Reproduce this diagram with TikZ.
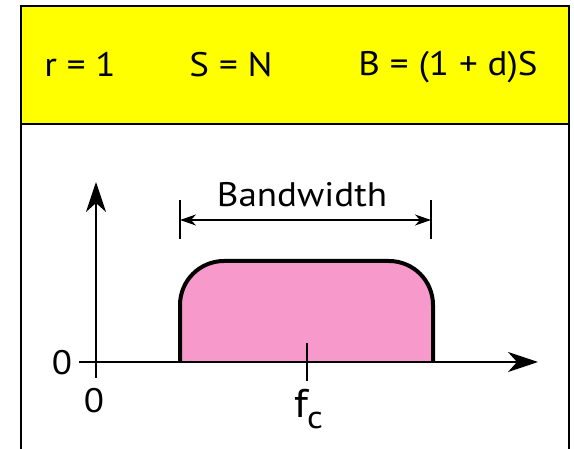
\documentclass[tikz,border=0pt]{standalone}
\usepackage{fontspec}
\setmainfont{PT Sans}[FakeStretch=1.09]
\usetikzlibrary{arrows.meta}
\definecolor{hdryellow}{HTML}{FFFF00}
\definecolor{pulsepink}{HTML}{F799CA}
\tikzset{
  frame/.style={line width=2.2pt, draw=black},
  lbl/.style={font=\fontsize{34}{40}\selectfont, inner sep=0pt, anchor=base},
  axis/.style={line width=1.8pt, -{Stealth[length=30pt,width=20pt,inset=9pt]}},
  tick/.style={line width=2pt},
  bwarrow/.style={line width=1.6pt, {Stealth[length=16pt,width=11pt,inset=5pt]}-{Stealth[length=16pt,width=11pt,inset=5pt]}},
  pulse/.style={line width=4pt, draw=black, line join=round}
}
\begin{document}
\begin{tikzpicture}[x=1pt,y=-1pt]
\useasboundingbox (0,0) rectangle (574,449);
% frame
\fill[white] (0,0) rectangle (574,449);
\filldraw[frame, fill=hdryellow] (21,6) rectangle (569,124);
\draw[frame] (21,124) -- (21,449);
\draw[frame] (569,124) -- (569,449);
% header texts
\node[lbl] (r) at (80,77) {r = 1};
\node[lbl] (s) at (231,77) {S = N};
\node[lbl] (b) at (448,76) {B = (1 + d)S};
% pulse
\fill[pulsepink] (180,362) -- (180,305) arc[start angle=180, end angle=270, radius=44]
  -- (389,261) arc[start angle=270, end angle=360, radius=44] -- (433,362) -- cycle;
\draw[pulse] (180,362) -- (180,305) arc[start angle=180, end angle=270, radius=44]
  -- (389,261) arc[start angle=270, end angle=360, radius=44] -- (433,362);
% axes
\coordinate (xs) at (79,362);
\coordinate (xe) at (538,362);
\coordinate (ys) at (96,378);
\coordinate (ye) at (96,182);
\draw[axis] (xs) -- (xe);
\draw[axis] (ys) -- (ye);
% fc tick
\coordinate (fct) at (307,343);
\coordinate (fcb) at (307,381);
\draw[tick] (fct) -- (fcb);
% bandwidth
\coordinate (blt) at (180,200);
\coordinate (blb) at (180,239);
\coordinate (brt) at (431,200);
\coordinate (brb) at (431,239);
\draw[tick] (blt) -- (blb);
\draw[tick] (brt) -- (brb);
\coordinate (bl) at (180,220);
\coordinate (br) at (431,220);
\draw[bwarrow] (bl) -- (br);
\node[lbl] (bw) at (302,207) {Bandwidth};
% labels
\node[lbl] (z1) at (62,375) {0};
\node[lbl] (z2) at (94,413) {0};
\node[lbl, anchor=base west, font=\fontsize{40}{44}\selectfont] (fc) at (294,418)
  {f\kern-1pt\raisebox{-11pt}{\fontsize{32}{36}\selectfont c}};
\end{tikzpicture}
\end{document}
